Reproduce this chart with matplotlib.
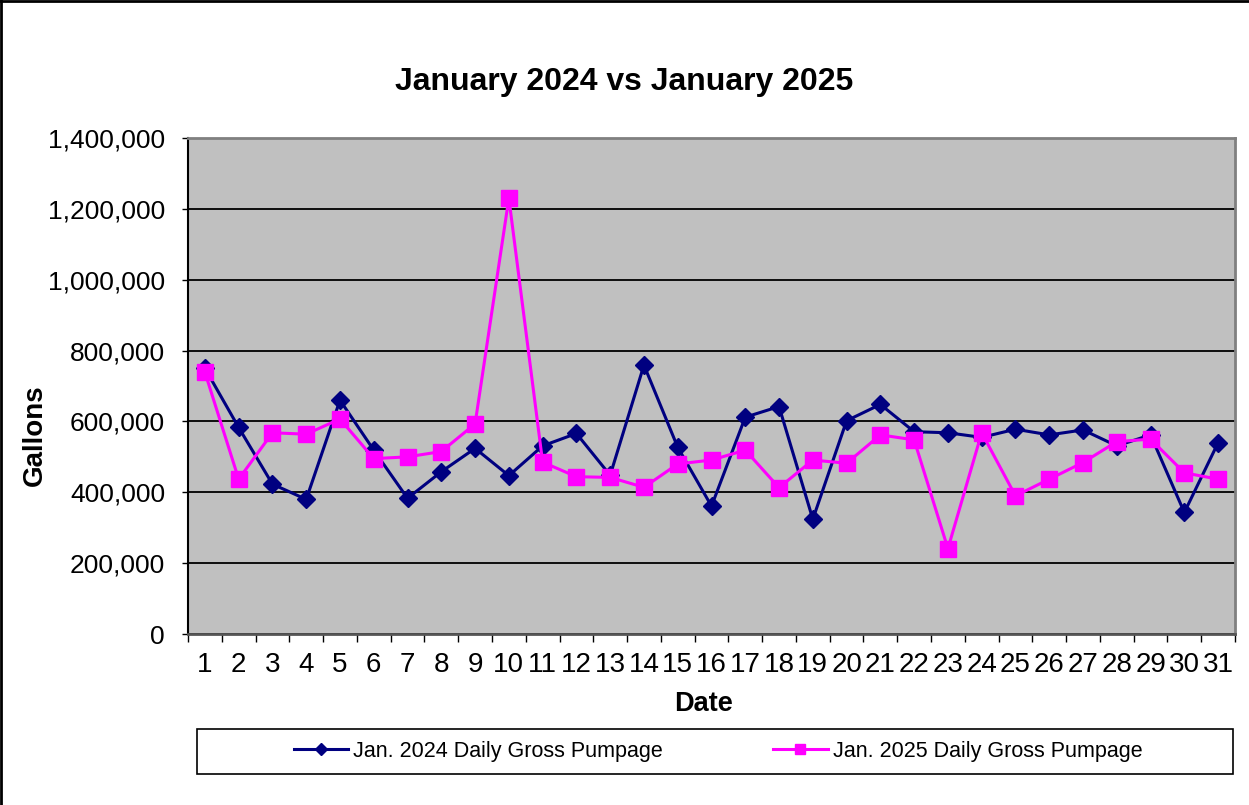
import matplotlib
matplotlib.use("Agg")
import matplotlib.pyplot as plt
from matplotlib.lines import Line2D
from matplotlib.patches import Rectangle
from matplotlib.ticker import FuncFormatter, FixedLocator

plt.rcParams["font.family"] = ["Liberation Sans", "DejaVu Sans"]

# --- data ---
days = list(range(1, 32))
gallons_2024 = [750000, 583000, 423000, 380000, 660000, 519000, 383000, 458000, 524000, 447000,
                531000, 566000, 448000, 759000, 527000, 361000, 612000, 642000, 324000, 602000,
                648000, 571000, 568000, 555000, 578000, 562000, 576000, 531000, 562000, 343000,
                540000]
gallons_2025 = [739000, 437000, 568000, 564000, 607000, 495000, 500000, 515000, 593000, 1230000,
                485000, 444000, 442000, 414000, 480000, 491000, 519000, 413000, 491000, 482000,
                562000, 548000, 241000, 568000, 390000, 437000, 484000, 543000, 550000, 455000,
                437000]
label_2024 = "Jan. 2024 Daily Gross Pumpage"
label_2025 = "Jan. 2025 Daily Gross Pumpage"

W, H = 1249, 805
fig = plt.figure(figsize=(W / 100, H / 100), dpi=100)
ax = fig.add_axes([188 / W, 1 - 634 / H, (1235 - 188) / W, (634 - 138) / H])
ax.set_facecolor("#C0C0C0")

ax.plot(days, gallons_2024, color="#000080", linewidth=2.2, marker="D",
        markersize=9, label=label_2024, zorder=3)
ax.plot(days, gallons_2025, color="#FF00FF", linewidth=2.2, marker="s",
        markersize=11, label=label_2025, zorder=4)

ax.set_xlim(0.5, 31.5)
ax.set_ylim(0, 1400000)
ax.set_yticks(range(0, 1400001, 200000))
ax.yaxis.set_major_formatter(FuncFormatter(lambda v, p: f"{int(v):,}"))
ax.grid(axis="y", color="black", linewidth=1.3, zorder=1)
ax.set_axisbelow(True)

# ticks sit between the days, labels at the day centres
ax.xaxis.set_major_locator(FixedLocator([d + 0.5 for d in range(0, 32)]))
ax.xaxis.set_minor_locator(FixedLocator(days))
ax.xaxis.set_major_formatter(FuncFormatter(lambda v, p: ""))
ax.xaxis.set_minor_formatter(FuncFormatter(lambda v, p: str(int(v))))
ax.tick_params(axis="x", which="major", length=6, width=1, color="black")
ax.tick_params(axis="x", which="minor", length=0, labelsize=20, pad=13)
ax.tick_params(axis="y", length=4.5, width=1, labelsize=19, pad=12)

for side in ["top", "right"]:
    ax.spines[side].set_color("#808080")
    ax.spines[side].set_linewidth(2)
ax.spines["left"].set_color("black")
ax.spines["left"].set_linewidth(1.5)
ax.spines["bottom"].set_color("#555555")
ax.spines["bottom"].set_linewidth(2)

fig.text(0.5, 1 - 82 / H, "January 2024 vs January 2025", ha="center", va="center",
         fontsize=23, fontweight="bold")
fig.text(35 / W, 1 - 435 / H, "Gallons", ha="center", va="center", rotation=90,
         fontsize=20, fontweight="bold")
fig.text(703 / W, 1 - 704 / H, "Date", ha="center", va="center",
         fontsize=19.5, fontweight="bold")

# legend box
fig.add_artist(Rectangle((197 / W, 1 - 774 / H), (1233 - 197) / W, (774 - 729) / H,
                         transform=fig.transFigure, facecolor="white",
                         edgecolor="black", linewidth=1.2))
fig.legend(loc="center", bbox_to_anchor=(718 / W, 1 - 751 / H), ncol=2, frameon=False,
           fontsize=15.5, handlelength=2.55, handletextpad=0.23, columnspacing=5.1,
           markerscale=0.7)

# outer chart frame (top and left edges visible)
fig.add_artist(Line2D([1 / W, 1 / W], [0, 1], transform=fig.transFigure, color="black", linewidth=2))
fig.add_artist(Line2D([0, 1], [1 - 1 / H, 1 - 1 / H], transform=fig.transFigure, color="black", linewidth=2))

fig.savefig("out.png", dpi=100)
